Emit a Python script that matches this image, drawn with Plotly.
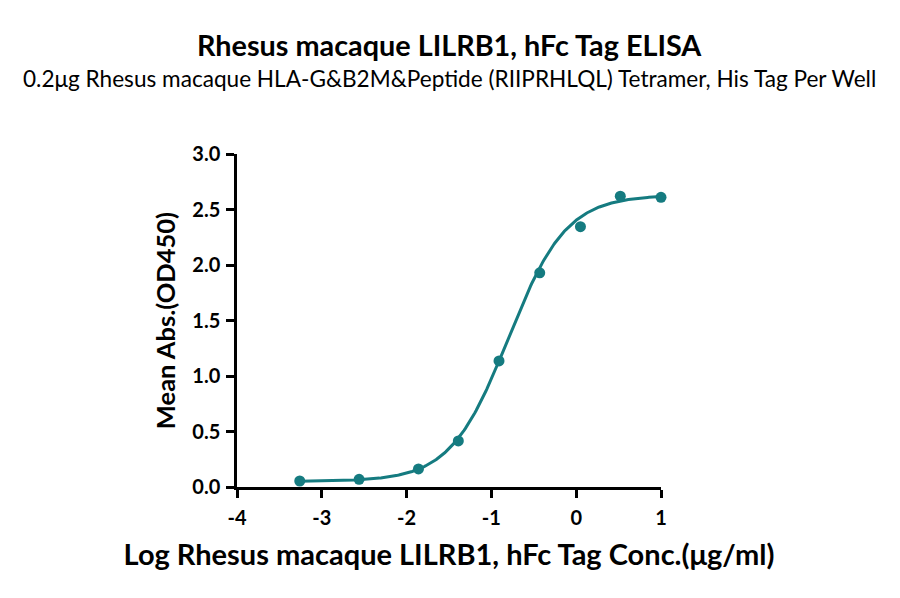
import numpy as np
import plotly.graph_objects as go

# measured points (log10 conc, mean OD450)
log_conc = [-3.26, -2.56, -1.86, -1.39, -0.91, -0.43, 0.05, 0.52, 1.0]
mean_abs = [0.054, 0.069, 0.163, 0.415, 1.136, 1.93, 2.345, 2.62, 2.61]

# 4PL fit parameters
bottom, top, log_ec50, hill = 0.05, 2.63, -0.80, 1.27

x_ticks = [-4, -3, -2, -1, 0, 1]
y_ticks = [0.0, 0.5, 1.0, 1.5, 2.0, 2.5, 3.0]

teal = "#157b80"
font = "Lato"

x_fit = np.linspace(min(log_conc), max(log_conc), 300)
y_fit = bottom + (top - bottom) / (1 + 10 ** ((log_ec50 - x_fit) * hill))

fig = go.Figure()

fig.add_trace(go.Scatter(
    x=x_fit, y=y_fit,
    mode='lines',
    line=dict(color=teal, width=3),
    hoverinfo='skip',
))

fig.add_trace(go.Scatter(
    x=log_conc, y=mean_abs,
    mode='markers',
    marker=dict(color=teal, size=11),
    cliponaxis=False,
))

axis_common = dict(
    showgrid=False,
    zeroline=False,
    showline=True,
    linecolor='black',
    linewidth=2.5,
    ticks='outside',
    tickcolor='black',
    tickwidth=2.5,
    ticklen=8,
    tickfont=dict(family=font, size=20, color='black', weight='bold'),
)

# page body has an 8px margin, so the plot box is shifted back by that
fig.update_layout(
    width=900, height=598,
    paper_bgcolor='white',
    plot_bgcolor='white',
    showlegend=False,
    margin=dict(l=229, r=247, t=146, b=119),
    xaxis=dict(
        range=[-4, 1],
        tickvals=x_ticks,
        ticktext=[str(v) for v in x_ticks],
        ticklabelstandoff=3,
        title=dict(text="Log Rhesus macaque LILRB1, hFc Tag Conc.(μg/ml)",
                   font=dict(family=font, size=29, color='black', weight='bold'),
                   standoff=17),
        **axis_common,
    ),
    yaxis=dict(
        range=[0, 3],
        tickvals=y_ticks,
        ticktext=[f"{v:.1f}" for v in y_ticks],
        ticklabelstandoff=2,
        title=dict(text="Mean Abs.(OD450)",
                   font=dict(family=font, size=25.5, color='black', weight='bold'),
                   standoff=10),
        **axis_common,
    ),
    annotations=[
        dict(text="Rhesus macaque LILRB1, hFc Tag ELISA",
             xref='paper', yref='paper', x=0.5, y=1, xanchor='center', yanchor='middle',
             yshift=109, showarrow=False,
             font=dict(family=font, size=28.8, color='black', weight='bold')),
        dict(text="0.2μg Rhesus macaque HLA-G&B2M&Peptide (RIIPRHLQL) Tetramer, His Tag Per Well",
             xref='paper', yref='paper', x=0.5, y=1, xanchor='center', yanchor='middle',
             yshift=76, showarrow=False,
             font=dict(family=font, size=22.6, color='black')),
    ],
)

fig.write_html("out.html")
